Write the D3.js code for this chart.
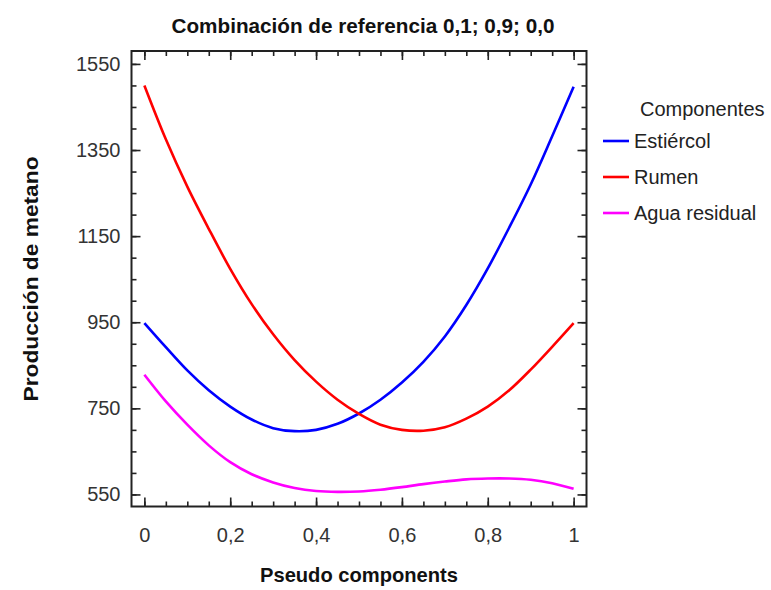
<!DOCTYPE html>
<html>
<head>
    <meta charset="utf-8">
    <script src="https://d3js.org/d3.v7.min.js"></script>
    <style>
        body { margin: 0; background: #fff; }
        .tick text { font-family: "Liberation Sans", Arial, sans-serif; font-size: 20px; fill: #333; }
        .title, .axis-label { font-family: "Liberation Sans Narrow", "Liberation Sans", Arial, sans-serif; font-weight: bold; fill: #111; }
        .legend text { font-family: "Liberation Sans", Arial, sans-serif; font-size: 20px; fill: #222; }
    </style>
</head>
<body>
<script>
    // x positions (pseudo component fraction)
    let xs = [0, 0.05, 0.1, 0.15, 0.2, 0.25, 0.3, 0.35, 0.4, 0.45, 0.5,
              0.55, 0.6, 0.65, 0.7, 0.75, 0.8, 0.85, 0.9, 0.95, 1];

    // methane production
    let estiercol = [948, 892, 838, 792, 754, 724, 704, 697, 700, 714, 738,
                     770, 810, 858, 917, 990, 1075, 1170, 1270, 1382, 1497];
    let rumen = [1500, 1375, 1265, 1167, 1074, 992, 922, 862, 812, 770, 737,
                 712, 700, 698, 706, 726, 754, 792, 840, 893, 948];
    let aguaResidual = [828, 766, 712, 664, 625, 597, 578, 565, 558, 556, 557,
                        561, 567, 574, 580, 585, 587, 587, 584, 576, 563];

    let seriesNames = ["Estiércol", "Rumen", "Agua residual"];
    let seriesColors = ["#0000ff", "#ff0000", "#ff00ff"];
    let seriesValues = [estiercol, rumen, aguaResidual];

    let xTicks = [0, 0.2, 0.4, 0.6, 0.8, 1];
    let yTicks = [550, 750, 950, 1150, 1350, 1550];

    let width = 771, height = 590;
    let plotLeft = 131.5, plotRight = 586.5, plotTop = 51, plotBottom = 506.5;

    let svg = d3.select("body").append("svg")
        .attr("width", width)
        .attr("height", height);

    let x = d3.scaleLinear().domain([-0.03, 1.03]).range([plotLeft, plotRight]);
    let y = d3.scaleLinear().domain([522, 1580]).range([plotBottom, plotTop]);

    let fmt = d => String(d).replace(".", ",");

    // minor ticks on all four sides
    let xMinor = d3.range(0, 1.001, 0.05);
    let yMinor = d3.range(550, 1551, 50);
    function styleAxis(g) {
        g.select(".domain").remove();
        g.selectAll(".tick line").attr("stroke", "#222").attr("stroke-width", 1.6);
    }
    svg.append("g").attr("transform", `translate(0,${plotBottom})`)
        .call(d3.axisBottom(x).tickValues(xMinor).tickSize(-5).tickFormat("")).call(styleAxis);
    svg.append("g").attr("transform", `translate(0,${plotTop})`)
        .call(d3.axisTop(x).tickValues(xMinor).tickSize(-5).tickFormat("")).call(styleAxis);
    svg.append("g").attr("transform", `translate(${plotLeft},0)`)
        .call(d3.axisLeft(y).tickValues(yMinor).tickSize(-5).tickFormat("")).call(styleAxis);
    svg.append("g").attr("transform", `translate(${plotRight},0)`)
        .call(d3.axisRight(y).tickValues(yMinor).tickSize(-5).tickFormat("")).call(styleAxis);

    // major ticks
    svg.append("g").attr("transform", `translate(0,${plotBottom})`)
        .call(d3.axisBottom(x).tickValues(xTicks).tickSize(-9).tickPadding(21).tickFormat(fmt)).call(styleAxis);
    svg.append("g").attr("transform", `translate(0,${plotTop})`)
        .call(d3.axisTop(x).tickValues(xTicks).tickSize(-9).tickFormat("")).call(styleAxis);
    svg.append("g").attr("transform", `translate(${plotLeft},0)`)
        .call(d3.axisLeft(y).tickValues(yTicks).tickSize(-9).tickPadding(11).tickFormat(d3.format("d"))).call(styleAxis);
    svg.append("g").attr("transform", `translate(${plotRight},0)`)
        .call(d3.axisRight(y).tickValues(yTicks).tickSize(-9).tickFormat("")).call(styleAxis);

    // frame
    svg.append("rect")
        .attr("x", plotLeft).attr("y", plotTop)
        .attr("width", plotRight - plotLeft).attr("height", plotBottom - plotTop)
        .attr("fill", "none").attr("stroke", "#222").attr("stroke-width", 2);

    // curves
    let line = d3.line()
        .x((d, i) => x(xs[i]))
        .y(d => y(d))
        .curve(d3.curveCatmullRom);

    seriesValues.forEach(function(vals, k) {
        svg.append("path")
            .datum(vals)
            .attr("d", line)
            .attr("fill", "none")
            .attr("stroke", seriesColors[k])
            .attr("stroke-width", 2.6);
    });

    // title and axis labels
    svg.append("text").attr("class", "title")
        .attr("x", 363).attr("y", 33)
        .attr("text-anchor", "middle")
        .attr("font-size", 21)
        .attr("textLength", 383).attr("lengthAdjust", "spacingAndGlyphs")
        .text("Combinación de referencia 0,1; 0,9; 0,0");

    svg.append("text").attr("class", "axis-label")
        .attr("x", 359).attr("y", 582)
        .attr("text-anchor", "middle")
        .attr("font-size", 21)
        .attr("textLength", 198).attr("lengthAdjust", "spacingAndGlyphs")
        .text("Pseudo components");

    svg.append("text").attr("class", "axis-label")
        .attr("transform", "translate(38,279) rotate(-90)")
        .attr("text-anchor", "middle")
        .attr("font-size", 20)
        .attr("textLength", 245).attr("lengthAdjust", "spacingAndGlyphs")
        .text("Producción de metano");

    // legend
    let legend = svg.append("g").attr("class", "legend");
    legend.append("text").attr("x", 640).attr("y", 116).text("Componentes");
    seriesNames.forEach(function(name, k) {
        let ly = 141 + k * 36;
        legend.append("line")
            .attr("x1", 603).attr("x2", 629)
            .attr("y1", ly).attr("y2", ly)
            .attr("stroke", seriesColors[k]).attr("stroke-width", 2.6);
        legend.append("text")
            .attr("x", 634).attr("y", ly + 7)
            .text(name);
    });
</script>
</body>
</html>
